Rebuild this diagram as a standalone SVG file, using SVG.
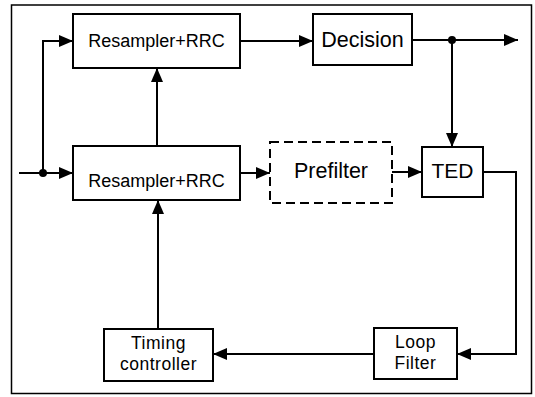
<svg xmlns="http://www.w3.org/2000/svg" width="535" height="397" viewBox="0 0 535 397">
<style>
.box{fill:#fff;stroke:#000;stroke-width:2}
.dash{fill:#fff;stroke:#000;stroke-width:2;stroke-dasharray:9 5}
.t{font-family:"Liberation Sans",Arial,sans-serif;fill:#000;text-anchor:middle}
.c{fill:none;stroke:#000;stroke-width:2}
</style>
<defs>
<marker id="ah" markerUnits="userSpaceOnUse" markerWidth="14" markerHeight="12" viewBox="0 0 14 12" refX="14" refY="6" orient="auto">
<path d="M0,0 L14,6 L0,12 Z" fill="#000"/>
</marker>
</defs>
<rect x="11.5" y="5" width="520" height="388.5" fill="none" stroke="#000" stroke-width="1.5"/>
<g id="connectors">
<path class="c" d="M19,173 H73" marker-end="url(#ah)"/>
<path class="c" d="M43,173 V41 H73" marker-end="url(#ah)"/>
<circle cx="43" cy="173" r="4" fill="#000"/>
<path class="c" d="M157,146 V68" marker-end="url(#ah)"/>
<path class="c" d="M240,41 H313" marker-end="url(#ah)"/>
<path class="c" d="M412,40 H518" marker-end="url(#ah)"/>
<circle cx="452" cy="40" r="4" fill="#000"/>
<path class="c" d="M452,40 V147" marker-end="url(#ah)"/>
<path class="c" d="M240,173 H270" marker-end="url(#ah)"/>
<path class="c" d="M392,172 H422" marker-end="url(#ah)"/>
<path class="c" d="M483,172 H516 V354 H457" marker-end="url(#ah)"/>
<path class="c" d="M374,354 H213" marker-end="url(#ah)"/>
<path class="c" d="M158,329 V200" marker-end="url(#ah)"/>
</g>
<g id="resampler-top">
<rect class="box" x="73" y="14" width="167" height="54"/>
<text class="t" x="156.5" y="47" font-size="18">Resampler+RRC</text>
</g>
<g id="resampler-bottom">
<rect class="box" x="73" y="146" width="167" height="54"/>
<text class="t" x="156.5" y="187" font-size="18">Resampler+RRC</text>
</g>
<g id="decision">
<rect class="box" x="313" y="14" width="99" height="51"/>
<text class="t" x="362.5" y="47" font-size="21.5">Decision</text>
</g>
<g id="prefilter">
<rect class="dash" x="270" y="142" width="122" height="61"/>
<text class="t" x="331" y="178" font-size="21.5">Prefilter</text>
</g>
<g id="ted">
<rect class="box" x="422" y="147" width="61" height="50"/>
<text class="t" x="452.5" y="178" font-size="21">TED</text>
</g>
<g id="timing-controller">
<rect class="box" x="104" y="329" width="109" height="52"/>
<text class="t" x="158.5" y="349" font-size="17.5" letter-spacing="0.5">Timing</text>
<text class="t" x="158.5" y="370" font-size="17.5" letter-spacing="0.5">controller</text>
</g>
<g id="loop-filter">
<rect class="box" x="374" y="328" width="83" height="51"/>
<text class="t" x="415.5" y="348" font-size="17.5" letter-spacing="0.5">Loop</text>
<text class="t" x="415.5" y="369" font-size="17.5" letter-spacing="0.5">Filter</text>
</g>
</svg>
